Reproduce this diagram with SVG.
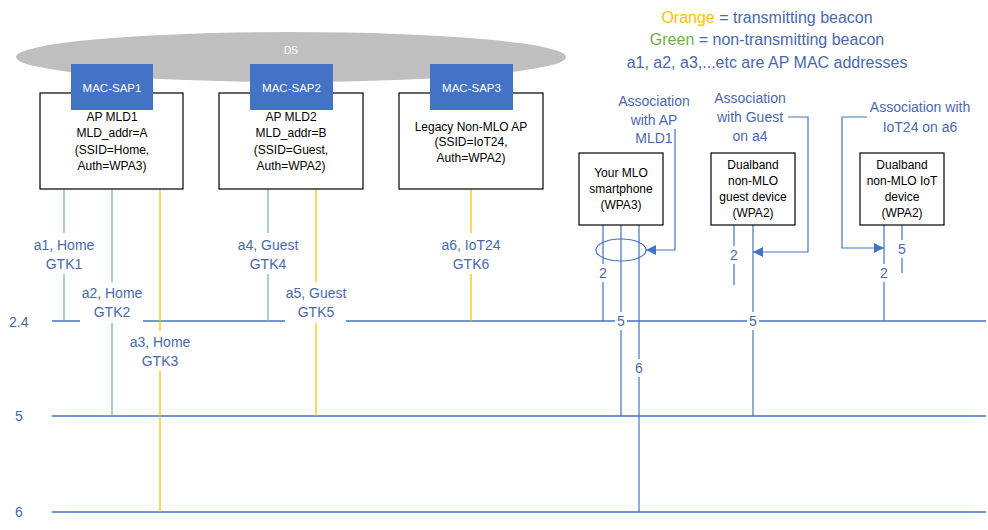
<svg xmlns="http://www.w3.org/2000/svg" width="988" height="530" viewBox="0 0 988 530">
<style>
  text { font-family: "Liberation Sans", Arial, sans-serif; }
  .box { fill: #ffffff; stroke: #000000; stroke-width: 1.2; }
  .sap { fill: #4472C4; }
  .sapt { fill: #ffffff; font-size: 11.5px; text-anchor: middle; }
  .bt { fill: #000000; font-size: 12px; text-anchor: middle; }
  .lbl { fill: #4A69AD; font-size: 14px; text-anchor: middle; }
  .leg { fill: #4A69AD; font-size: 16px; text-anchor: middle; }
  .band { stroke: #4472C4; stroke-width: 1.5; fill: none; }
  .blue { stroke: #4472C4; stroke-width: 1.2; fill: none; }
  .green { stroke: #72BE96; stroke-width: 1.3; fill: none; }
  .yellow { stroke: #FFC000; stroke-width: 1.3; fill: none; }
  .bg { fill: #ffffff; }
</style>
<defs>
  <marker id="arr" viewBox="0 0 10 10" refX="10" refY="5" markerWidth="10" markerHeight="10" markerUnits="userSpaceOnUse" orient="auto">
    <path d="M0,0 L10,5 L0,10 z" fill="#4472C4"/>
  </marker>
</defs>

<g id="ds">
  <ellipse cx="291" cy="57" rx="275" ry="25" fill="#BFBFBF"/>
  <text x="291" y="54" fill="#ffffff" font-size="10" text-anchor="middle">DS</text>
</g>

<g id="legend">
  <text class="leg" x="767" y="23"><tspan fill="#FFC000">Orange</tspan> = transmitting beacon</text>
  <text class="leg" x="767" y="45"><tspan fill="#70AD47">Green</tspan> = non-transmitting beacon</text>
  <text class="leg" x="767" y="68">a1, a2, a3,...etc are AP MAC addresses</text>
</g>

<g id="bands">
  <line class="band" x1="52" y1="321" x2="986" y2="321"/>
  <line class="band" x1="52" y1="416" x2="986" y2="416"/>
  <line class="band" x1="52" y1="512" x2="986" y2="512"/>
  <text class="lbl" x="9" y="327" text-anchor="start" style="text-anchor:start">2.4</text>
  <text class="lbl" x="15" y="421" style="text-anchor:start">5</text>
  <text class="lbl" x="15" y="517" style="text-anchor:start">6</text>
</g>

<g id="connectors">
  <line class="green" x1="64" y1="189" x2="64" y2="321"/>
  <line class="green" x1="112" y1="189" x2="112" y2="416"/>
  <line class="yellow" x1="160" y1="189" x2="160" y2="512"/>
  <line class="green" x1="268" y1="189" x2="268" y2="321"/>
  <line class="yellow" x1="316" y1="189" x2="316" y2="416"/>
  <line class="yellow" x1="471" y1="189" x2="471" y2="321"/>

  <line class="blue" x1="603" y1="225" x2="603" y2="321"/>
  <line class="blue" x1="621" y1="225" x2="621" y2="416"/>
  <line class="blue" x1="639" y1="225" x2="639" y2="512"/>
  <ellipse class="blue" cx="621" cy="250" rx="25" ry="11"/>

  <line class="blue" x1="734" y1="225" x2="734" y2="285"/>
  <line class="blue" x1="753" y1="225" x2="753" y2="416"/>

  <line class="blue" x1="884" y1="225" x2="884" y2="321"/>
  <line class="blue" x1="902" y1="225" x2="902" y2="273"/>

  <path class="blue" d="M675,129 V250 H646" marker-end="url(#arr)"/>
  <path class="blue" d="M788,117 H808 V252 H753" marker-end="url(#arr)"/>
  <path class="blue" d="M867,117 H842 V248 H884" marker-end="url(#arr)"/>

  <rect class="bg" x="30" y="233" width="68" height="41"/>
  <text class="lbl" x="64" y="250">a1, Home</text>
  <text class="lbl" x="64" y="269">GTK1</text>
  <rect class="bg" x="80" y="282" width="63" height="41"/>
  <text class="lbl" x="112" y="298">a2, Home</text>
  <text class="lbl" x="112" y="317">GTK2</text>
  <rect class="bg" x="128" y="331" width="64" height="40"/>
  <text class="lbl" x="160" y="347">a3, Home</text>
  <text class="lbl" x="160" y="366">GTK3</text>
  <rect class="bg" x="234" y="233" width="68" height="41"/>
  <text class="lbl" x="268" y="250">a4, Guest</text>
  <text class="lbl" x="268" y="269">GTK4</text>
  <rect class="bg" x="285" y="282" width="61" height="41"/>
  <text class="lbl" x="316" y="298">a5, Guest</text>
  <text class="lbl" x="316" y="317">GTK5</text>
  <rect class="bg" x="436" y="233" width="70" height="41"/>
  <text class="lbl" x="471" y="250">a6, IoT24</text>
  <text class="lbl" x="471" y="269">GTK6</text>

  <rect class="bg" x="597" y="264" width="12" height="18"/>
  <text class="lbl" x="603" y="278">2</text>
  <rect class="bg" x="615" y="312" width="12" height="18"/>
  <text class="lbl" x="621" y="326">5</text>
  <rect class="bg" x="633" y="359" width="12" height="18"/>
  <text class="lbl" x="639" y="373">6</text>
  <rect class="bg" x="728" y="246" width="12" height="18"/>
  <text class="lbl" x="734" y="260">2</text>
  <rect class="bg" x="747" y="312" width="12" height="18"/>
  <text class="lbl" x="753" y="326">5</text>
  <rect class="bg" x="878" y="264" width="12" height="18"/>
  <text class="lbl" x="884" y="278">2</text>
  <rect class="bg" x="896" y="240" width="12" height="18"/>
  <text class="lbl" x="902" y="254">5</text>
</g>

<g id="ap-mld1">
  <rect class="box" x="40" y="93" width="143" height="96"/>
  <rect class="sap" x="71" y="64" width="82" height="46"/>
  <text class="sapt" x="112" y="92">MAC-SAP1</text>
  <text class="bt" x="112" y="121">AP MLD1</text>
  <text class="bt" x="112" y="137">MLD_addr=A</text>
  <text class="bt" x="112" y="154">(SSID=Home,</text>
  <text class="bt" x="112" y="170">Auth=WPA3)</text>
</g>

<g id="ap-mld2">
  <rect class="box" x="219" y="93" width="144" height="96"/>
  <rect class="sap" x="250" y="64" width="83" height="46"/>
  <text class="sapt" x="291.5" y="92">MAC-SAP2</text>
  <text class="bt" x="291" y="121">AP MLD2</text>
  <text class="bt" x="291" y="137">MLD_addr=B</text>
  <text class="bt" x="291" y="154">(SSID=Guest,</text>
  <text class="bt" x="291" y="170">Auth=WPA2)</text>
</g>

<g id="legacy-ap">
  <rect class="box" x="399" y="93" width="144" height="96"/>
  <rect class="sap" x="430" y="64" width="83" height="46"/>
  <text class="sapt" x="471.5" y="92">MAC-SAP3</text>
  <text class="bt" x="471" y="131">Legacy Non-MLO AP</text>
  <text class="bt" x="471" y="146">(SSID=IoT24,</text>
  <text class="bt" x="471" y="162">Auth=WPA2)</text>
</g>

<g id="smartphone">
  <rect class="box" x="579" y="153" width="84" height="72"/>
  <text class="bt" x="621" y="177">Your MLO</text>
  <text class="bt" x="621" y="193">smartphone</text>
  <text class="bt" x="621" y="209">(WPA3)</text>
</g>

<g id="guest-device">
  <rect class="box" x="711" y="153" width="84" height="72"/>
  <text class="bt" x="753" y="169">Dualband</text>
  <text class="bt" x="753" y="185">non-MLO</text>
  <text class="bt" x="753" y="201">guest device</text>
  <text class="bt" x="753" y="217">(WPA2)</text>
</g>

<g id="iot-device">
  <rect class="box" x="860" y="153" width="84" height="72"/>
  <text class="bt" x="902" y="169">Dualband</text>
  <text class="bt" x="902" y="185">non-MLO IoT</text>
  <text class="bt" x="902" y="201">device</text>
  <text class="bt" x="902" y="217">(WPA2)</text>
</g>

<g id="assoc-labels">
  <text class="lbl" x="654" y="106">Association</text>
  <text class="lbl" x="654" y="125">with AP</text>
  <text class="lbl" x="654" y="143">MLD1</text>
  <text class="lbl" x="750" y="103">Association</text>
  <text class="lbl" x="750" y="122">with Guest</text>
  <text class="lbl" x="750" y="141">on a4</text>
  <text class="lbl" x="920" y="112">Association with</text>
  <text class="lbl" x="920" y="132">IoT24 on a6</text>
</g>
</svg>
